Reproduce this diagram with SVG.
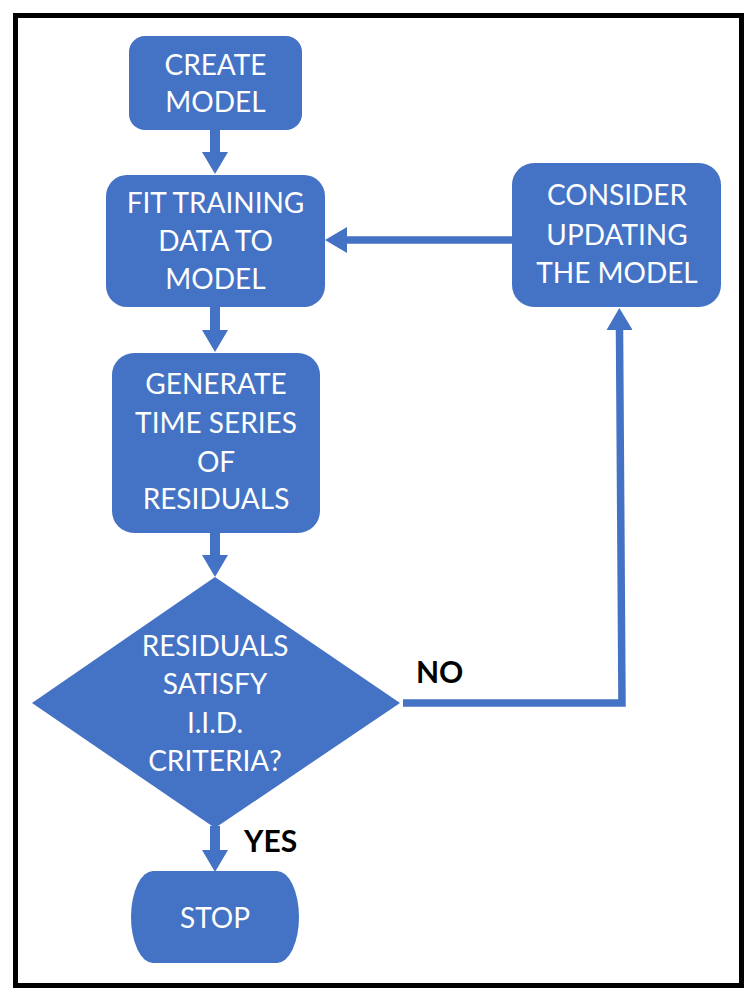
<svg xmlns="http://www.w3.org/2000/svg" width="752" height="996" viewBox="0 0 752 996">
<style>
.box{fill:#4472C4;}
.t{font-family:Lato,"Liberation Sans",sans-serif;font-size:28px;fill:#FFFFFF;text-anchor:middle;}
.lbl{font-family:Lato,"Liberation Sans",sans-serif;font-size:30px;font-weight:bold;fill:#000000;}
.c{stroke:#4472C4;fill:none;stroke-linejoin:miter;}
</style>
<defs>
<marker id="ah" markerUnits="userSpaceOnUse" markerWidth="22" markerHeight="26" refX="0" refY="13" orient="auto">
<path d="M0,0 L22,13 L0,26 Z" fill="#4472C4"/>
</marker>
</defs>
<rect x="0" y="0" width="752" height="996" fill="#FFFFFF"/>
<rect x="15.5" y="15.5" width="726" height="970" fill="none" stroke="#000000" stroke-width="5"/>
<g id="connectors">
<line class="c" x1="215" y1="129" x2="215" y2="152" stroke-width="10" marker-end="url(#ah)"/>
<line class="c" x1="215" y1="306" x2="215" y2="330" stroke-width="10" marker-end="url(#ah)"/>
<line class="c" x1="215" y1="532" x2="215" y2="555" stroke-width="10" marker-end="url(#ah)"/>
<line class="c" x1="215" y1="826" x2="215" y2="850" stroke-width="10" marker-end="url(#ah)"/>
<line class="c" x1="513" y1="240" x2="347" y2="240" stroke-width="7.5" marker-end="url(#ah)"/>
<polyline class="c" points="403,703 622,703 619.5,330" stroke-width="7.5" marker-end="url(#ah)"/>
</g>
<g id="create">
<rect class="box" x="129" y="36" width="173" height="94" rx="16"/>
<text class="t" x="215.5" y="75">CREATE</text>
<text class="t" x="215.5" y="112">MODEL</text>
</g>
<g id="fit">
<rect class="box" x="106" y="175" width="219" height="132" rx="21"/>
<text class="t" x="215.5" y="213">FIT TRAINING</text>
<text class="t" x="215.5" y="251">DATA TO</text>
<text class="t" x="215.5" y="289">MODEL</text>
</g>
<g id="generate">
<rect class="box" x="112" y="353" width="208" height="180" rx="22"/>
<text class="t" x="216" y="394">GENERATE</text>
<text class="t" x="216" y="433">TIME SERIES</text>
<text class="t" x="216" y="472">OF</text>
<text class="t" x="216" y="509">RESIDUALS</text>
</g>
<g id="consider">
<rect class="box" x="512" y="163" width="209" height="144" rx="22"/>
<text class="t" x="617" y="205">CONSIDER</text>
<text class="t" x="617" y="245">UPDATING</text>
<text class="t" x="617" y="283">THE MODEL</text>
</g>
<g id="decision">
<polygon class="box" points="215,577 400,703 215,828 32,703"/>
<text class="t" x="215" y="656">RESIDUALS</text>
<text class="t" x="215" y="694">SATISFY</text>
<text class="t" x="215" y="733">I.I.D.</text>
<text class="t" x="215" y="771">CRITERIA?</text>
</g>
<g id="stop">
<path class="box" d="M153,871 H277 A22,46 0 0 1 277,963 H153 A22,46 0 0 1 153,871 Z"/>
<text class="t" x="215" y="928">STOP</text>
</g>
<g id="labels">
<text class="lbl" x="416" y="683">NO</text>
<text class="lbl" x="244" y="852">YES</text>
</g>
</svg>
